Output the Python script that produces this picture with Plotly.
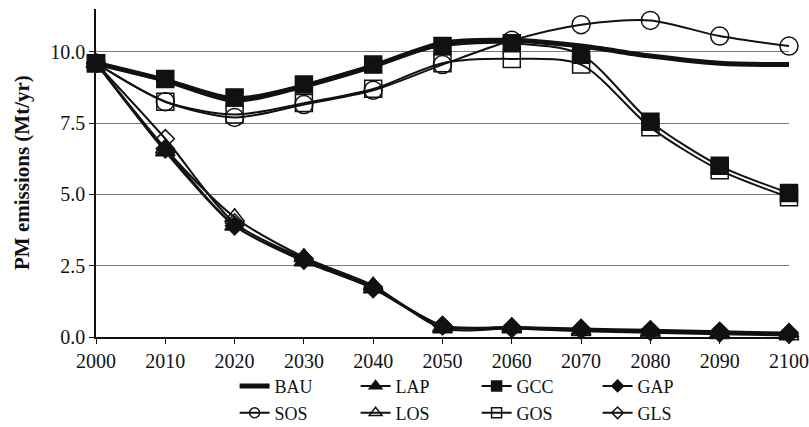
import plotly.graph_objects as go

# PM emission pathways by scenario, 2000-2100 (Mt/yr)
years = [2000, 2010, 2020, 2030, 2040, 2050, 2060, 2070, 2080, 2090, 2100]

bau = [9.6, 9.0, 8.3, 8.8, 9.5, 10.3, 10.4, 10.2, 9.85, 9.6, 9.55]
lap = [9.6, 6.5, 3.9, 2.65, 1.7, 0.35, 0.35, 0.25, 0.2, 0.15, 0.15]
gcc = [9.6, 9.05, 8.4, 8.85, 9.55, 10.2, 10.3, 9.9, 7.55, 6.0, 5.05]
gap = [9.6, 6.6, 3.9, 2.7, 1.7, 0.4, 0.35, 0.3, 0.25, 0.2, 0.15]
sos = [9.6, 8.25, 7.7, 8.15, 8.65, 9.55, 10.4, 10.95, 11.1, 10.55, 10.2]
los = [9.6, 6.6, 4.2, 2.8, 1.8, 0.3, 0.3, 0.2, 0.15, 0.1, 0.05]
gos = [9.6, 8.25, 7.8, 8.2, 8.7, 9.6, 9.75, 9.55, 7.35, 5.85, 4.9]
gls = [9.6, 6.95, 4.0, 2.75, 1.75, 0.4, 0.3, 0.25, 0.2, 0.15, 0.1]

y_ticks = [0.0, 2.5, 5.0, 7.5, 10.0]
y_tick_labels = ["0.0", "2.5", "5.0", "7.5", "10.0"]

INK = "#111111"
SERIF = "Liberation Serif, Times New Roman, serif"

# name, values, marker symbol, marker size in the plot
series = [
    ("SOS", sos, "circle-open", 18),
    ("GOS", gos, "square-open", 17),
    ("LOS", los, "triangle-up-open", 17),
    ("GLS", gls, "diamond-open", 14),
    ("LAP", lap, "triangle-up", 17),
    ("GAP", gap, "diamond", 14),
]

fig = go.Figure()

# Plot traces (legend handled by separate entries below)
for name, vals, sym, size in series:
    fig.add_trace(go.Scatter(
        x=years, y=vals, mode="lines+markers", name=name, showlegend=False,
        line=dict(color=INK, width=2, shape="spline", smoothing=0.8),
        marker=dict(symbol=sym, size=size, color=INK,
                    line=dict(color=INK, width=1.5)),
        cliponaxis=False,
    ))

fig.add_trace(go.Scatter(
    x=years, y=bau, mode="lines", name="BAU", showlegend=False,
    line=dict(color=INK, width=5, shape="spline", smoothing=0.8),
    cliponaxis=False,
))
# filled squares sit on top of the thick line
fig.add_trace(go.Scatter(
    x=years, y=gcc, mode="lines+markers", name="GCC", showlegend=False,
    line=dict(color=INK, width=2, shape="spline", smoothing=0.8),
    marker=dict(symbol="square", size=17, color=INK,
                line=dict(color=INK, width=1.5)),
    cliponaxis=False,
))

# Legend entries: two rows of four
legend_rows = {
    "legend": [("BAU", None, None), ("LAP", "triangle-up", 11),
               ("GCC", "square", 10), ("GAP", "diamond", 9)],
    "legend2": [("SOS", "circle-open", 10), ("LOS", "triangle-up-open", 11),
                ("GOS", "square-open", 10), ("GLS", "diamond-open", 9)],
}
for leg, entries in legend_rows.items():
    for name, sym, size in entries:
        if sym is None:
            fig.add_trace(go.Scatter(
                x=[None], y=[None], mode="lines", name=name, legend=leg,
                line=dict(color=INK, width=5)))
        else:
            fig.add_trace(go.Scatter(
                x=[None], y=[None], mode="lines+markers", name=name, legend=leg,
                line=dict(color=INK, width=2),
                marker=dict(symbol=sym, size=size, color=INK,
                            line=dict(color=INK, width=1.5))))

legend_common = dict(
    orientation="h", xanchor="left", yanchor="middle",
    font=dict(family=SERIF, size=18, color=INK),
    bgcolor="rgba(0,0,0,0)", entrywidth=76, entrywidthmode="pixels",
    itemwidth=30, traceorder="normal",
)

fig.update_layout(
    width=809, height=427,
    margin=dict(l=96, r=20, t=9, b=90, autoexpand=False),
    paper_bgcolor="white", plot_bgcolor="white",
    font=dict(family=SERIF, size=20, color=INK),
    xaxis=dict(
        range=[2000, 2100], tickmode="array", tickvals=years,
        showgrid=False, zeroline=False,
        showline=True, linecolor=INK, linewidth=1.5,
        ticks="outside", ticklen=5, tickcolor=INK,
        tickfont=dict(family=SERIF, size=20, color=INK),
    ),
    yaxis=dict(
        range=[0, 11.5], tickmode="array", tickvals=y_ticks, ticktext=y_tick_labels,
        showgrid=True, gridcolor="#7a7a7a", gridwidth=1, zeroline=False,
        showline=True, linecolor=INK, linewidth=1.5,
        ticks="outside", ticklen=5, tickcolor=INK,
        tickfont=dict(family=SERIF, size=20, color=INK),
    ),
    legend=dict(x=0.2, y=-0.15, **legend_common),
    legend2=dict(x=0.2, y=-0.232, **legend_common),
    annotations=[dict(
        text="<b>PM emissions (Mt/yr)</b>", textangle=-90,
        xref="paper", yref="paper", x=0, y=0.5, xanchor="center", yanchor="middle",
        xshift=-74, showarrow=False,
        font=dict(family=SERIF, size=21, color=INK),
    )],
)

fig.write_html("out.html")
